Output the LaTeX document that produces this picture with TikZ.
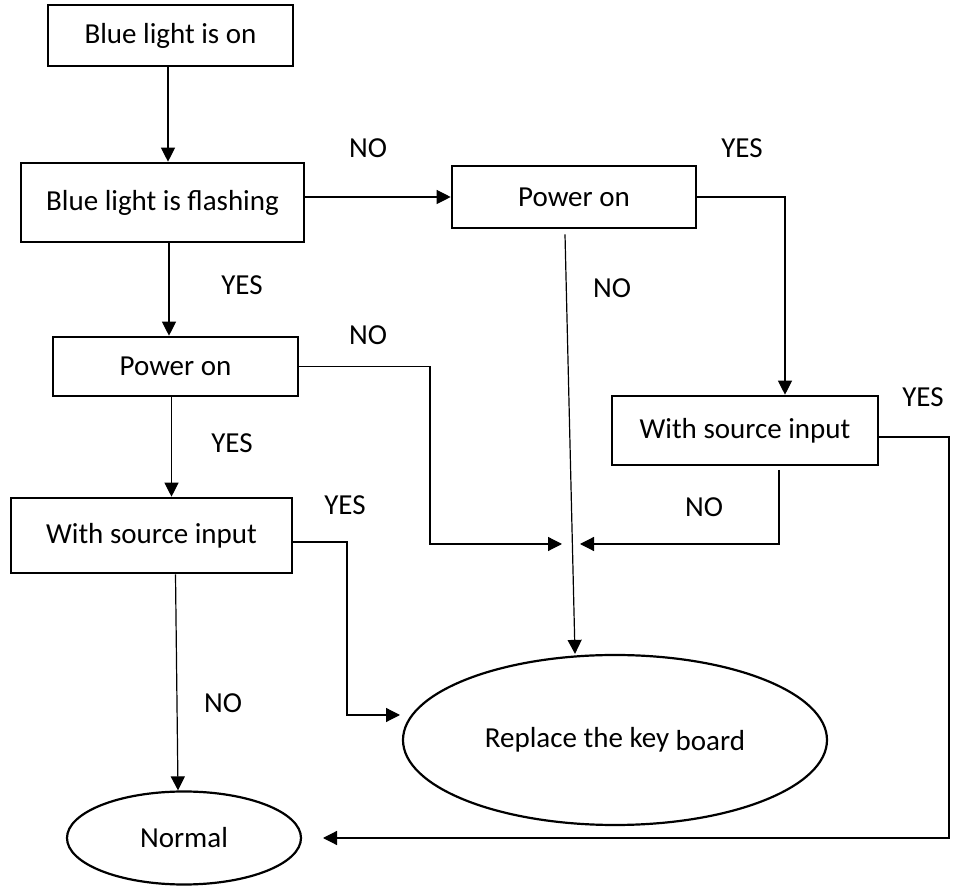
\documentclass[tikz,border=0pt]{standalone}
\usepackage{fontspec}
\setmainfont{Carlito}
\usetikzlibrary{shapes.geometric,arrows.meta}

\begin{document}
\begin{tikzpicture}[x=0.5pt,y=-0.5pt,
	every node/.style={font=\fontsize{14.5pt}{17pt}\selectfont},
	box/.style={draw,line width=1.3pt,inner sep=0pt},
	oval/.style={draw,ellipse,line width=1.1pt,inner sep=0pt},
	arr/.style={line width=0.6pt,-{Triangle[length=7pt,width=7pt]}},
	line/.style={line width=0.6pt}]
			\useasboundingbox (0,0) rectangle (960,887);
			% Các hộp
			\node[box,minimum width=122.5pt,minimum height=30.5pt] (on) at (170.5,35.5) {Blue light is on};
			\node[box,minimum width=141.5pt,minimum height=39.5pt] (flash) at (162.5,202.5) {Blue light is flashing};
			\node[box,minimum width=122.5pt,minimum height=29.5pt] (pwrA) at (175.5,366.5) {Power on};
			\node[box,minimum width=140.5pt,minimum height=37.5pt] (srcA) at (151.5,535.5) {With source input};
			\node[box,minimum width=122pt,minimum height=31pt] (pwrB) at (574,197) {Power on};
			\node[box,minimum width=133pt,minimum height=34.5pt] (srcB) at (745,430.5) {With source input};
			\node[oval,minimum width=212pt,minimum height=85pt] (rep) at (615,740) {Replace the key \raisebox{-1.5pt}{board}};
			\node[oval,minimum width=117pt,minimum height=46.5pt] (norm) at (184,838) {Normal};
			% Các điểm gấp
			\coordinate (k1) at (785,197);
			\coordinate (k2) at (347,715);
			\coordinate (k3) at (400,715);
			\coordinate (k4) at (430,544);
			\coordinate (j1) at (562,544);
			\coordinate (j2) at (580,544);
			\coordinate (k5) at (779,470);
			\coordinate (k6) at (949,437);
			\coordinate (k7) at (323,838);
			% Vẽ mũi tên
			\draw[arr] ([xshift=-1.25pt]on.south) -- ([xshift=-1.25pt]on.south |- flash.north);
			\draw[arr] (flash.east |- pwrB.west) -- (pwrB.west);
			\draw[arr] (pwrB.east) -- (k1) -- (k1 |- srcB.north);
			\draw[arr] ([xshift=3.25pt]flash.south) -- ([xshift=3.25pt]flash.south |- pwrA.north);
			\draw[arr] ([xshift=-2pt]pwrA.south) -- ([xshift=-2pt]pwrA.south |- srcA.north);
			\draw[arr] ([xshift=12pt]srcA.south) -- ([xshift=-3pt]norm.north);
			\draw[arr] (srcA.east |- 0,542) -- (k2 |- 0,542) -- (k2) -- (k3);
			\draw[arr] (pwrA.east) -- (k4 |- pwrA.east) -- (k4) -- (j1);
			\draw[arr] (k5) -- (k5 |- j2) -- (j2);
			\draw[arr] ([xshift=-4.5pt,yshift=-2.5pt]pwrB.south) -- ([xshift=-20pt]rep.north);
			\draw[arr] (srcB.east |- k6) -- (k6) -- (k6 |- k7) -- (k7);
			% Nhãn
			\foreach \x/\y/\t in {368/148/NO,742/148/YES,612/288/NO,242/285/YES,368/335/NO,
				923/397/YES,232/443/YES,345/505/YES,704/507/NO,223/703/NO}
			\node (lb-\x-\y) at (\x,\y) {\t};
		\end{tikzpicture}
\end{document}
